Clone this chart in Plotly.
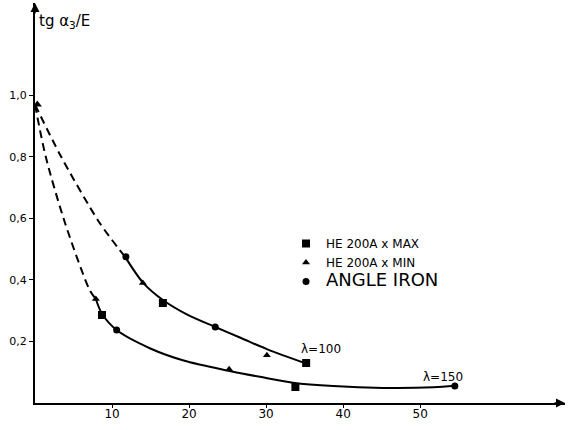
import plotly.graph_objects as go

# ---- data ----
# markers
max_x = [16.6, 35.2, 8.7, 33.8]
max_y = [0.325, 0.13, 0.286, 0.052]
min_x = [14.0, 30.1, 7.9, 25.2]
min_y = [0.39, 0.155, 0.338, 0.11]
ang_x = [11.8, 23.4, 10.6, 54.5]
ang_y = [0.475, 0.247, 0.237, 0.055]

# fitted curves (solid)
c100_x = [11.7, 14.1, 16.7, 19.7, 23.4, 26.6, 30.1, 35.1]
c100_y = [0.475, 0.389, 0.333, 0.288, 0.247, 0.213, 0.175, 0.129]
c150_x = [7.9, 8.7, 10.6, 14.9, 19.3, 25.1, 29.2, 33.5, 38.7, 45.2, 51.7, 54.5]
c150_y = [0.338, 0.29, 0.237, 0.178, 0.138, 0.105, 0.085, 0.066, 0.055, 0.049, 0.051, 0.056]

# extrapolated parts (dashed)
d100_x = [0.0, 3.4, 8.4, 11.7]
d100_y = [0.97, 0.80, 0.585, 0.475]
d150_x = [0.0, 1.4, 3.9, 7.1, 7.9]
d150_y = [0.97, 0.80, 0.585, 0.367, 0.338]

y_ticks = [0.2, 0.4, 0.6, 0.8, 1.0]
y_labels = ["0,2", "0,4", "0,6", "0,8", "1,0"]
x_ticks = [10, 20, 30, 40, 50]

FONT = "DejaVu Sans"
BLK = "black"

fig = go.Figure()
for xs, ys in [(d100_x, d100_y), (d150_x, d150_y)]:
    fig.add_trace(go.Scatter(x=xs, y=ys, mode="lines",
                             line=dict(color=BLK, width=2, dash="8px,5px",
                                       shape="spline", smoothing=0.8),
                             showlegend=False, hoverinfo="skip"))
for xs, ys in [(c100_x, c100_y), (c150_x, c150_y)]:
    fig.add_trace(go.Scatter(x=xs, y=ys, mode="lines",
                             line=dict(color=BLK, width=2, shape="spline", smoothing=0.9),
                             showlegend=False, hoverinfo="skip"))
# start point
fig.add_trace(go.Scatter(x=[d100_x[0] + 0.3], y=[d100_y[0]], mode="markers",
                         marker=dict(symbol="triangle-up", size=8, color=BLK),
                         showlegend=False, hoverinfo="skip"))

fig.add_trace(go.Scatter(x=max_x, y=max_y, mode="markers", name="HE 200A x MAX",
                         marker=dict(symbol="square", size=8, color=BLK)))
fig.add_trace(go.Scatter(x=min_x, y=min_y, mode="markers", name="HE 200A x MIN",
                         marker=dict(symbol="triangle-up", size=7, color=BLK)))
fig.add_trace(go.Scatter(x=ang_x, y=ang_y, mode="markers",
                         name="<span style='font-size:18px'>ANGLE IRON</span>",
                         marker=dict(symbol="circle", size=7, color=BLK)))

X_MAX = 68.8
Y_MAX = 1.3

annotations = [
    dict(x=X_MAX, y=0, xref="x", yref="y", ax=-12, ay=0, showarrow=True,
         arrowhead=2, arrowsize=1.2, arrowwidth=1.5, arrowcolor=BLK, text=""),
    dict(x=0, y=Y_MAX, xref="x", yref="y", ax=0, ay=12, showarrow=True,
         arrowhead=2, arrowsize=1.2, arrowwidth=1.5, arrowcolor=BLK, text=""),
    dict(x=0.3, y=Y_MAX - 0.06, xref="x", yref="y", xanchor="left", yanchor="middle",
         text="tg α<sub>3</sub>/E", showarrow=False, font=dict(size=15)),
    dict(x=X_MAX, y=-0.012, xref="x", yref="y", xanchor="right", yanchor="top",
         text="X<sub>r</sub> = δ/δ<sub>c</sub>", showarrow=False, font=dict(size=13)),
    dict(x=37.1, y=0.177, xref="x", yref="y", text="λ=100", showarrow=False,
         font=dict(size=12)),
    dict(x=52.9, y=0.086, xref="x", yref="y", text="λ=150", showarrow=False,
         font=dict(size=12)),
]

fig.update_layout(
    width=573, height=430,
    margin=dict(l=35, r=8, t=3, b=27, autoexpand=False),
    paper_bgcolor="white", plot_bgcolor="white",
    font=dict(family=FONT, color=BLK, size=12),
    showlegend=True,
    legend=dict(x=0.4736, y=0.435, xanchor="left", yanchor="top",
                bgcolor="rgba(0,0,0,0)", font=dict(size=12),
                tracegroupgap=0, itemwidth=30),
    annotations=annotations,
    xaxis=dict(range=[0, X_MAX], tickvals=x_ticks, ticks="outside", ticklen=3,
               tickcolor=BLK, showline=True, linecolor=BLK, linewidth=2,
               showgrid=False, zeroline=False, tickfont=dict(size=12),
               ticklabelstandoff=-4),
    yaxis=dict(range=[0, Y_MAX], tickvals=y_ticks, ticktext=y_labels,
               ticks="outside", ticklen=4, tickcolor=BLK, showline=True,
               linecolor=BLK, linewidth=2, showgrid=False, zeroline=False,
               tickfont=dict(size=11)),
)

fig.write_html("out.html", post_script="document.body.style.margin='0';",
               config={"displayModeBar": False})
